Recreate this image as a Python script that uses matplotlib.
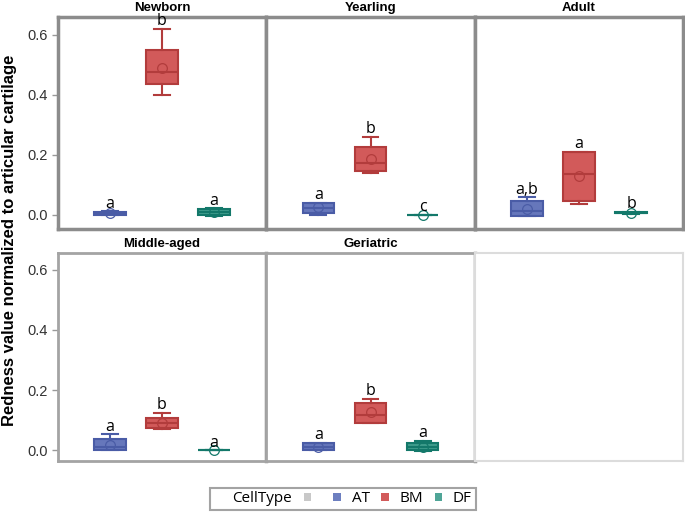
import matplotlib
matplotlib.use("Agg")
import matplotlib.pyplot as plt
from matplotlib.patches import Patch

groups = ["Newborn", "Yearling", "Adult", "Middle-aged", "Geriatric"]
cells = ["AT", "BM", "DF"]

# per group, per cell: whislo, q1, med, q3, whishi, mean
stats_vals = {
    "Newborn": [(0.000, 0.001, 0.006, 0.011, 0.012, 0.006),
                (0.400, 0.435, 0.475, 0.550, 0.620, 0.490),
                (-0.002, 0.001, 0.011, 0.021, 0.022, 0.010)],
    "Yearling": [(0.000, 0.008, 0.024, 0.041, 0.041, 0.025),
                 (0.139, 0.147, 0.174, 0.227, 0.260, 0.188),
                 (0.000, 0.000, 0.000, 0.000, 0.000, 0.000)],
    "Adult": [(-0.002, -0.002, 0.014, 0.046, 0.059, 0.021),
              (0.038, 0.047, 0.136, 0.210, 0.210, 0.130),
              (0.004, 0.005, 0.008, 0.010, 0.010, 0.007)],
    "Middle-aged": [(0.000, 0.000, 0.011, 0.037, 0.053, 0.019),
                    (0.070, 0.074, 0.090, 0.108, 0.124, 0.092),
                    (0.000, 0.000, 0.000, 0.000, 0.000, 0.000)],
    "Geriatric": [(0.000, 0.000, 0.011, 0.025, 0.025, 0.010),
                  (0.090, 0.090, 0.118, 0.157, 0.171, 0.126),
                  (-0.001, 0.000, 0.013, 0.024, 0.033, 0.012)],
}
letters = {
    "Newborn": ["a", "b", "a"],
    "Yearling": ["a", "b", "c"],
    "Adult": ["a,b", "a", "b"],
    "Middle-aged": ["a", "b", "a"],
    "Geriatric": ["a", "b", "a"],
}
yticks = [0.0, 0.2, 0.4, 0.6]

fill_colors = ["#6677BB", "#D25A5A", "#3E9C8C"]
edge_colors = ["#4A5CA6", "#B23C3C", "#13786A"]

fig = plt.figure(figsize=(6.85, 5.12), dpi=100)
W, H = 685, 512


def add_ax(x0, y0, x1, y1):
    return fig.add_axes([x0 / W, 1 - y1 / H, (x1 - x0) / W, (y1 - y0) / H])


lefts = [58, 266, 475]
rights = [266, 475, 683]
rows = [(17, 229, (-0.047, 0.66)), (253, 461, (-0.035, 0.655))]

for i, g in enumerate(groups + [None]):
    r, c = divmod(i, 3)
    top, bot, ylim = rows[r]
    ax = add_ax(lefts[c], top, rights[c], bot)
    if g is None:
        for s in ax.spines.values():
            s.set_color("#dcdcdc")
            s.set_linewidth(1.5)
        ax.set_xticks([])
        ax.set_yticks([])
        continue
    scol = "#8c8c8c" if r == 0 else "#a4a4a4"
    for s in ax.spines.values():
        s.set_color(scol)
        s.set_linewidth(2.5 if r == 0 else 2.0)
    if r == 1:
        ax.spines["right"].set_color("#8c8c8c")
        ax.spines["right"].set_linewidth(2.5)

    for j, cell in enumerate(cells):
        lo, q1, med, q3, hi, mean = stats_vals[g][j]
        st = [dict(whislo=lo, q1=q1, med=med, q3=q3, whishi=hi, mean=mean, fliers=[])]
        ec = edge_colors[j]
        ax.bxp(st, positions=[j + 1], widths=0.6, patch_artist=True,
               showmeans=True, capwidths=0.3, manage_ticks=False,
               boxprops=dict(facecolor=fill_colors[j], edgecolor=ec, linewidth=1.5),
               medianprops=dict(color=ec, linewidth=1.5),
               whiskerprops=dict(color=ec, linewidth=1.5),
               capprops=dict(color=ec, linewidth=1.5),
               meanprops=dict(marker="o", markerfacecolor="none",
                              markeredgecolor=ec, markersize=7, markeredgewidth=0.9))
        ax.text(j + 1, hi + 0.012, letters[g][j], ha="center", va="baseline",
                fontsize=11.5, family="Open Sans", color="black")

    ax.set_xlim(0, 4)
    ax.set_ylim(*ylim)
    ax.set_xticks([])
    ax.set_title(g, fontsize=9.5, fontweight="bold", family="Liberation Sans", pad=4)
    if c == 0:
        ax.set_yticks(yticks)
        ax.set_yticklabels([f"{v:.1f}" for v in yticks], fontsize=10.5,
                           family="Liberation Sans", color="#333333")
        ax.tick_params(axis="y", length=4, color="#999999", width=1)
    else:
        ax.set_yticks([])

fig.text(10 / W, 1 - 240 / H, "Redness value normalized to articular cartilage",
         rotation=90, ha="center", va="center", fontsize=12, fontweight="bold",
         family="Liberation Sans")

handles = [Patch(facecolor="none", edgecolor="none"),
           Patch(facecolor="#C8C8C8", edgecolor="none"),
           Patch(facecolor="#6D7FC0", edgecolor="none"),
           Patch(facecolor="#D25B5B", edgecolor="none"),
           Patch(facecolor="#4FA597", edgecolor="none")]
labels = ["CellType", "", "AT", "BM", "DF"]
leg = fig.legend(handles, labels, loc="center", bbox_to_anchor=(343 / W, 1 - 499 / H),
                 ncol=5, frameon=True, fancybox=False, handlelength=0.5,
                 handleheight=0.5, handletextpad=0.7, columnspacing=0.75,
                 borderpad=0.25, borderaxespad=0,
                 prop=dict(family="Open Sans", size=11))
leg.get_frame().set_edgecolor("#8c8c8c")
leg.get_frame().set_linewidth(1.5)

fig.savefig("out.png", dpi=100)
